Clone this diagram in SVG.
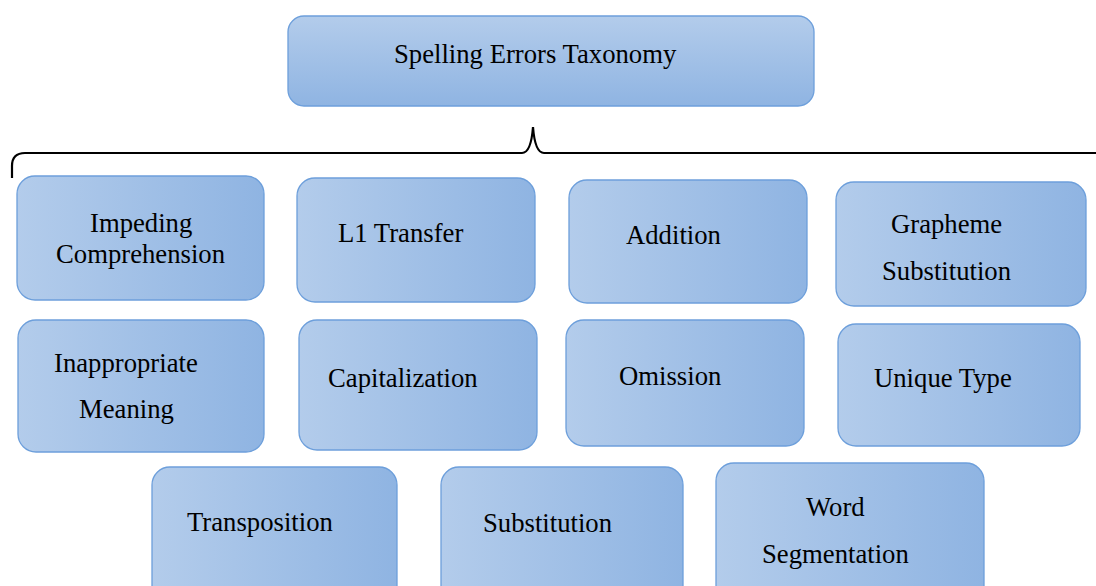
<svg xmlns="http://www.w3.org/2000/svg" width="1096" height="586" viewBox="0 0 1096 586">
<defs>
<linearGradient id="gh" x1="0" y1="0" x2="1" y2="0">
<stop offset="0" stop-color="#b3cceb"/>
<stop offset="1" stop-color="#8fb4e2"/>
</linearGradient>
<linearGradient id="gv" x1="0" y1="0" x2="0" y2="1">
<stop offset="0" stop-color="#b3cceb"/>
<stop offset="1" stop-color="#8fb4e2"/>
</linearGradient>
<style>
.box{fill:url(#gh);stroke:#6d9fdb;stroke-width:1.3}
.top{fill:url(#gv);stroke:#6d9fdb;stroke-width:1.3}
text{font-family:"Liberation Serif","Times New Roman",serif;font-size:26.7px;fill:#000}
.brace{fill:none;stroke:#000;stroke-width:2.2}
</style>
</defs>
<rect width="1096" height="586" fill="#fff"/>
<g id="root"><rect class="top" x="288" y="16" width="526" height="90" rx="16"/><text x="394" y="63">Spelling Errors Taxonomy</text></g>
<g id="connectors"><path class="brace" d="M12,178 L12,166 Q12,153 25,153 L522,153 Q531,153 533,127 Q535,153 544,153 L1096,153"/></g>
<g id="impeding"><rect class="box" x="17" y="176" width="247" height="124" rx="18"/><text x="90" y="232">Impeding</text><text x="56" y="263">Comprehension</text></g>
<g id="l1"><rect class="box" x="297" y="178" width="238" height="124" rx="18"/><text x="338" y="242">L1 Transfer</text></g>
<g id="addition"><rect class="box" x="569" y="180" width="238" height="123" rx="18"/><text x="626" y="244">Addition</text></g>
<g id="grapheme"><rect class="box" x="836" y="182" width="250" height="124" rx="18"/><text x="891" y="233">Grapheme</text><text x="882" y="280">Substitution</text></g>
<g id="inappropriate"><rect class="box" x="18" y="320" width="246" height="132" rx="18"/><text x="54" y="372">Inappropriate</text><text x="79" y="418">Meaning</text></g>
<g id="capitalization"><rect class="box" x="299" y="320" width="238" height="130" rx="18"/><text x="328" y="387">Capitalization</text></g>
<g id="omission"><rect class="box" x="566" y="320" width="238" height="126" rx="18"/><text x="619" y="385">Omission</text></g>
<g id="unique"><rect class="box" x="838" y="324" width="242" height="122" rx="18"/><text x="874" y="387">Unique Type</text></g>
<g id="transposition"><rect class="box" x="152" y="467" width="245" height="140" rx="18"/><text x="187" y="531">Transposition</text></g>
<g id="substitution"><rect class="box" x="441" y="467" width="242" height="140" rx="18"/><text x="483" y="532">Substitution</text></g>
<g id="segmentation"><rect class="box" x="716" y="463" width="268" height="144" rx="18"/><text x="806" y="516">Word</text><text x="762" y="563">Segmentation</text></g>
</svg>
